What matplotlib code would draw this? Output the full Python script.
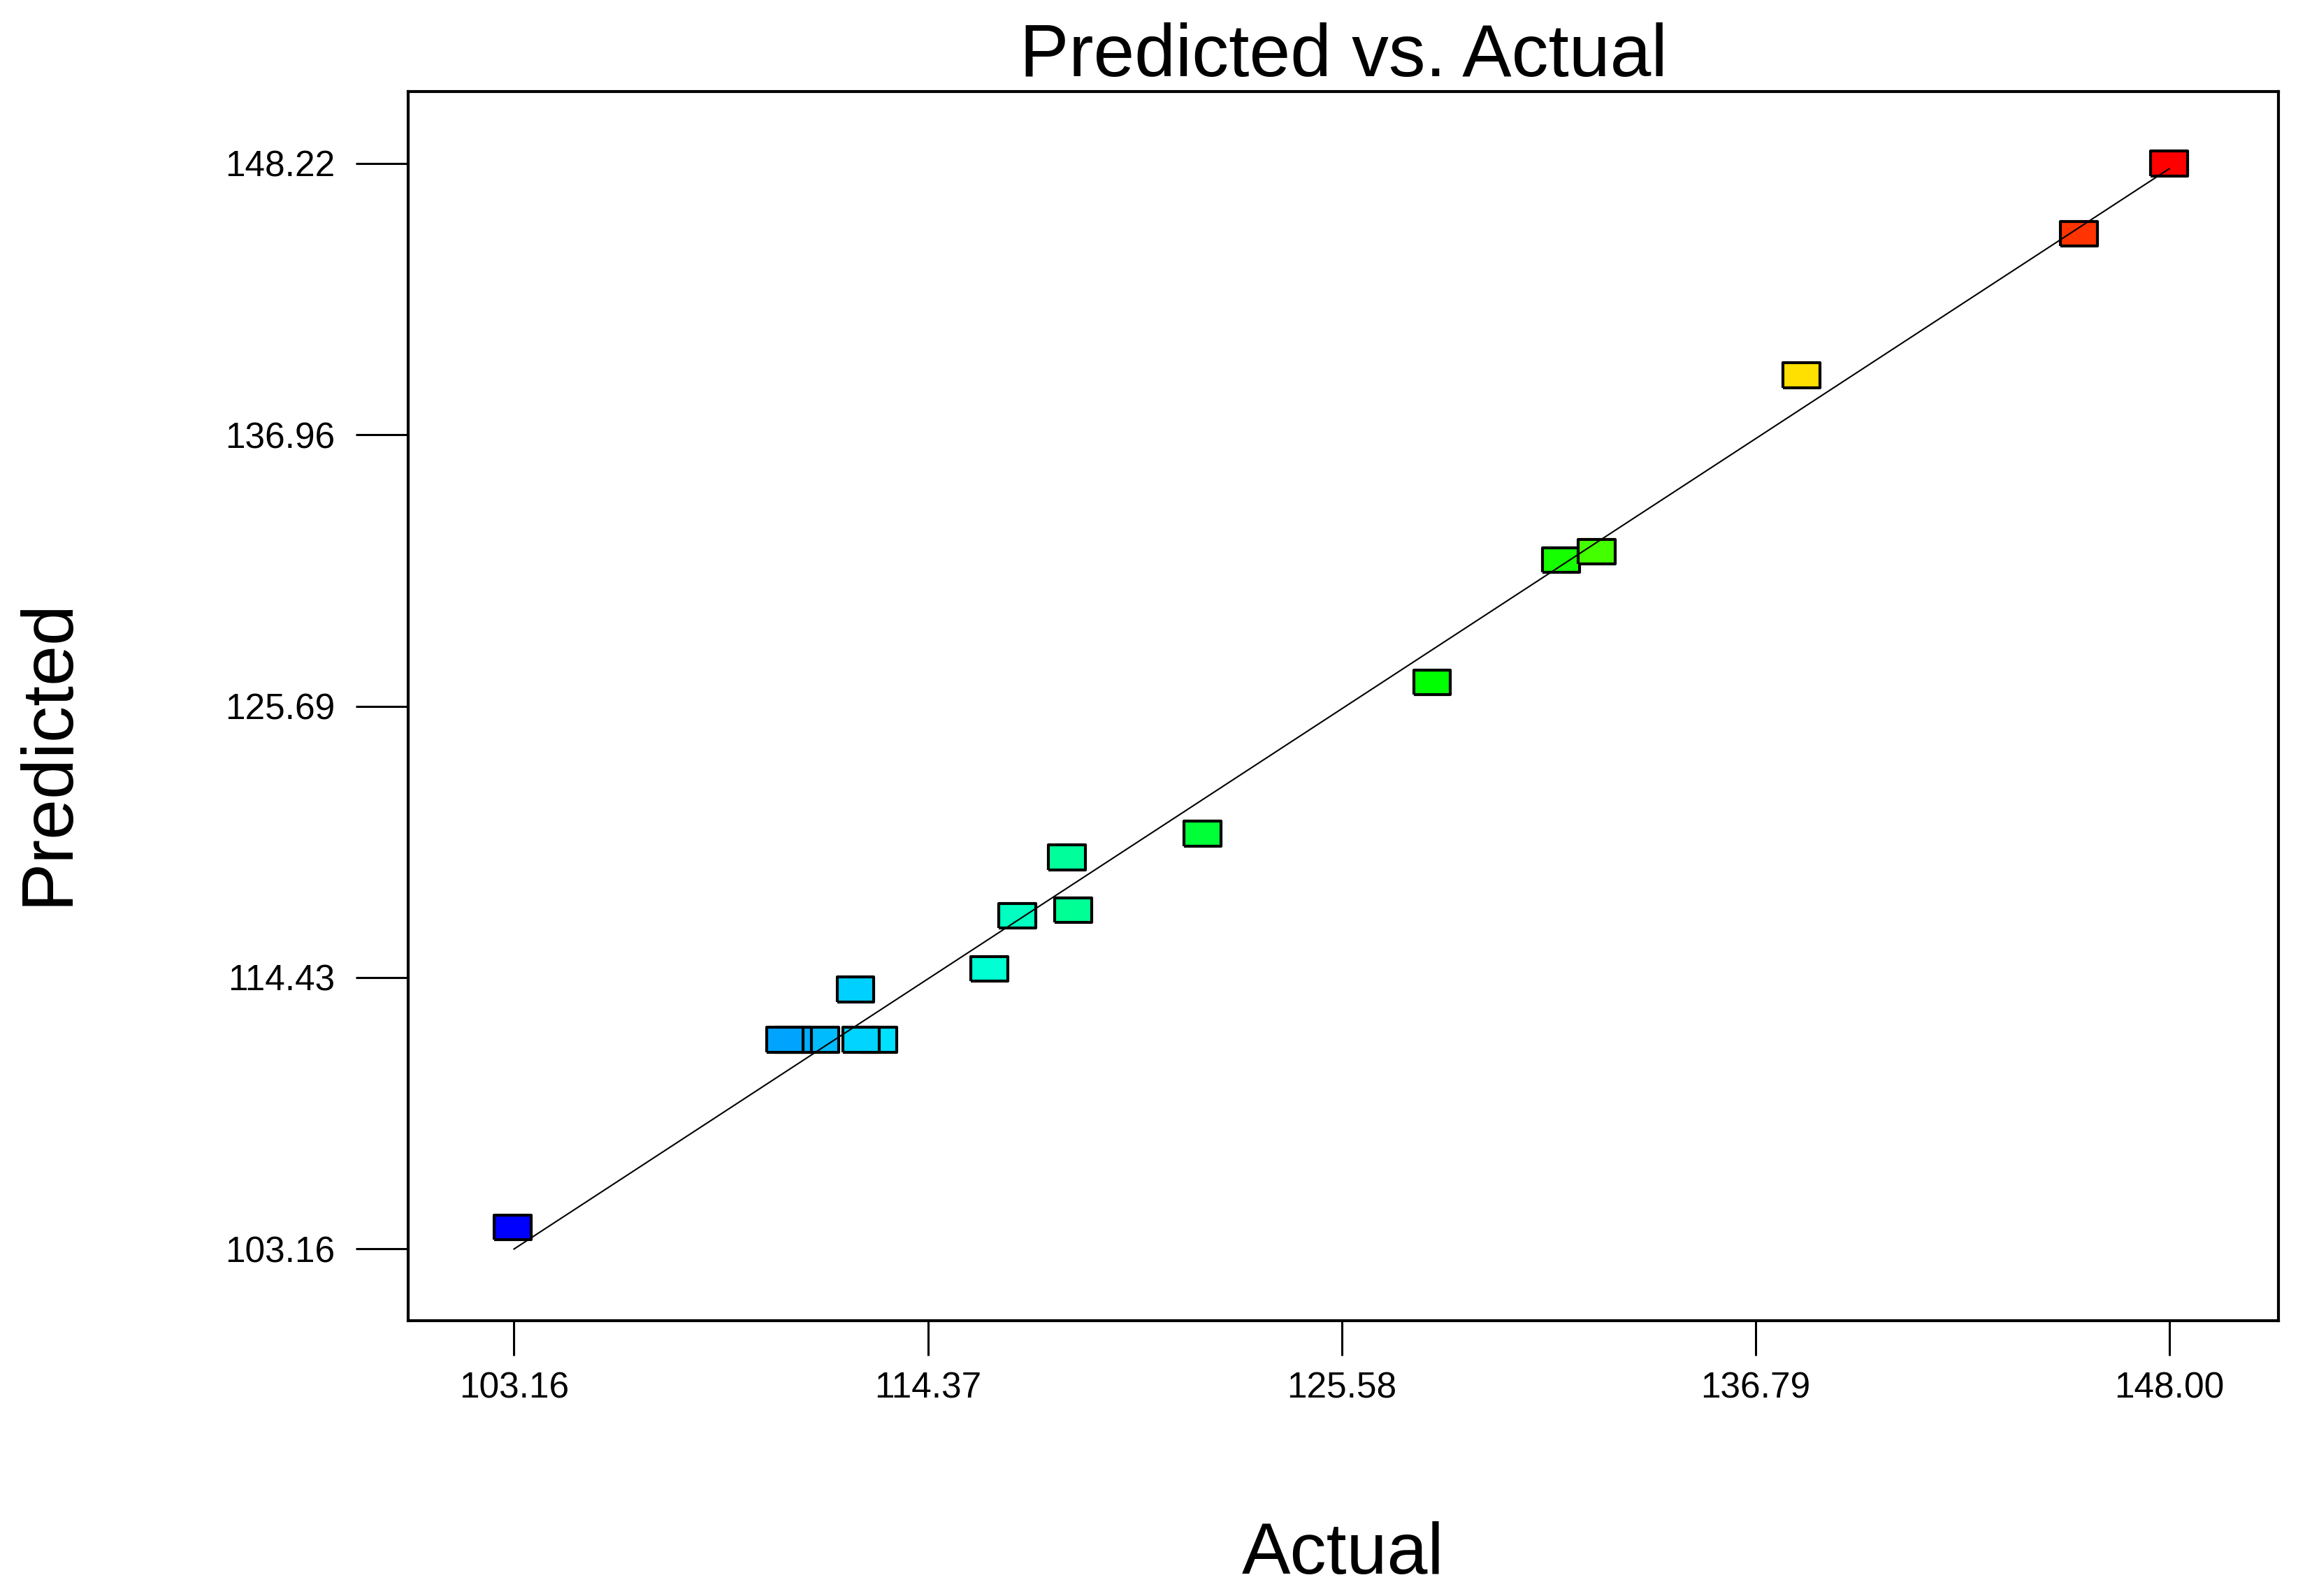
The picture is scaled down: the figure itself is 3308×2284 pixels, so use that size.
import numpy as np
import matplotlib
matplotlib.use('Agg')
import matplotlib.pyplot as plt
from matplotlib.colors import LinearSegmentedColormap, Normalize

plt.rcParams['font.family'] = ['Liberation Sans', 'DejaVu Sans']

# design points (actual, predicted) - drawing order kept as in the picture
actual = [103.13, 111.45, 110.72, 110.50, 113.03, 112.56, 112.41,
          116.03, 116.79, 118.31, 118.14, 121.81, 128.03,
          131.53, 132.49, 138.03, 145.55, 148.00]
predicted = [104.06, 111.85, 111.85, 111.85, 111.85, 111.85, 113.93,
             114.79, 116.99, 117.23, 119.42, 120.40, 126.68,
             131.76, 132.11, 139.43, 145.30, 148.22]

xticks = [103.16, 114.37, 125.58, 136.79, 148.00]
yticks = [103.16, 114.43, 125.69, 136.96, 148.22]

# Design-Expert style rainbow (blue -> cyan -> green -> yellow -> red)
cmap = LinearSegmentedColormap.from_list('de', [
    (0.0, (0, 0, 1)), (0.25, (0, 1, 1)), (0.46, (0, 1, 0)),
    (0.62, (0, 1, 0)), (0.75, (1, 1, 0)), (1.0, (1, 0, 0))])

fig = plt.figure(figsize=(33.08, 22.84), dpi=100)
ax = fig.add_axes([0.1765, 0.1725, 0.809, 0.770])

rect = [(-1, -0.67), (1, -0.67), (1, 0.67), (-1, 0.67), (-1, -0.67)]
ax.scatter(actual, predicted, c=actual, cmap=cmap,
           norm=Normalize(min(xticks), max(xticks)),
           marker=rect, s=38 ** 2, edgecolors='black', linewidths=3.0,
           zorder=2)
ax.plot([xticks[0], xticks[-1]], [xticks[0], xticks[-1]],
        color='black', lw=1.5, zorder=3)

xr = xticks[-1] - xticks[0]
yr = yticks[-1] - yticks[0]
ax.set_xlim(xticks[0] - 0.064 * xr, xticks[-1] + 0.066 * xr)
ax.set_ylim(yticks[0] - 0.066 * yr, yticks[-1] + 0.066 * yr)

ax.set_xticks(xticks)
ax.set_xticklabels(['%.2f' % v for v in xticks])
ax.set_yticks(yticks)
ax.set_yticklabels(['%.2f' % v for v in yticks])
ax.tick_params(axis='x', direction='out', length=36, width=2.2,
               labelsize=37, pad=16)
ax.tick_params(axis='y', direction='out', length=54, width=2.2,
               labelsize=37, pad=21)
for sp in ax.spines.values():
    sp.set_linewidth(3)

ax.set_title('Predicted vs. Actual', fontsize=76, pad=12)
ax.set_xlabel('Actual', fontsize=75)
ax.set_ylabel('Predicted', fontsize=75)
ax.xaxis.set_label_coords(0.5, -0.163)
ax.yaxis.set_label_coords(-0.174, 0.463)

fig.savefig('out.png', dpi=100)
